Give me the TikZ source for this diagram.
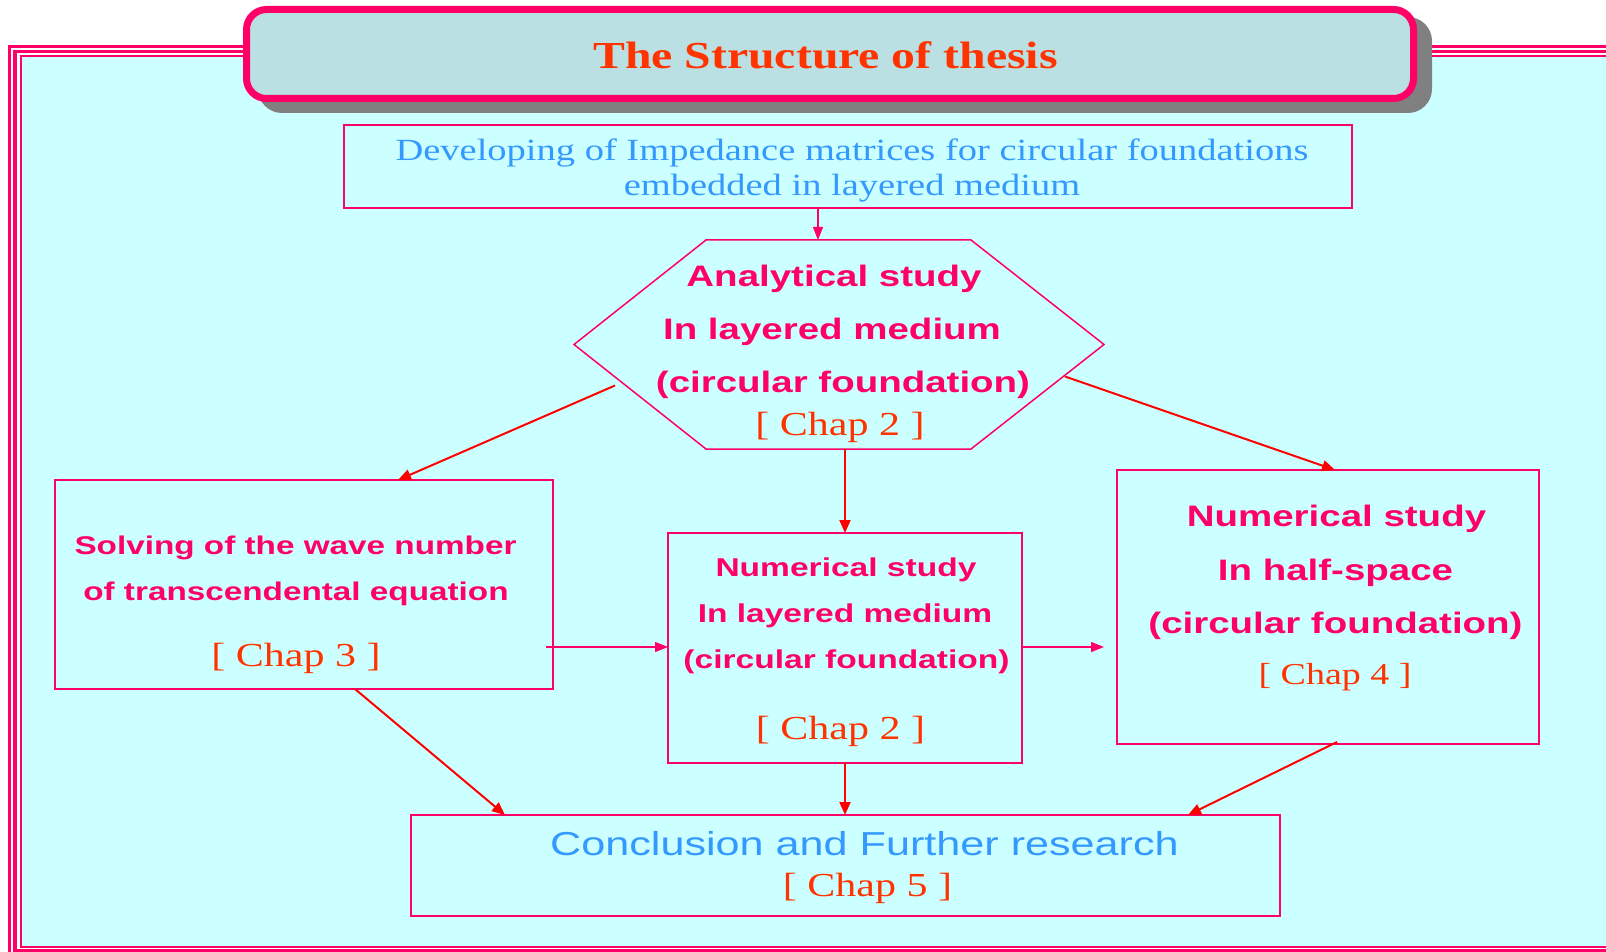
\documentclass[tikz,border=0pt]{standalone}
\usepackage{fontspec}
\setmainfont{Liberation Serif}[FakeStretch=1.25]
\newfontfamily\hv{Liberation Sans}[FakeStretch=1.3]
\usetikzlibrary{arrows.meta,calc}
\definecolor{pinkc}{HTML}{FF0066}
\definecolor{orangec}{HTML}{FF3300}
\definecolor{bluec}{HTML}{3399FF}
\definecolor{cyanbg}{HTML}{CCFFFF}
\definecolor{titlefill}{HTML}{BBE0E3}
\definecolor{redc}{HTML}{FF0000}
\definecolor{shadowc}{HTML}{808080}
\newcommand\fsz[1]{\fontsize{#1}{#1}\selectfont}
\tikzset{
  boxnode/.style={draw=pinkc, line width=0.75pt, inner sep=0pt, outer sep=0pt},
  hb/.style={anchor=base, text=pinkc, font=\hv\bfseries, inner sep=0pt},
  chap/.style={anchor=base, text=orangec, inner sep=0pt},
  bluetxt/.style={anchor=base, text=bluec, inner sep=0pt},
  redarrow/.style={draw=redc, line width=1pt, -{Triangle[length=6.5pt,width=5.5pt]}},
  pinkarrow/.style={draw=pinkc, line width=0.7pt, -{Triangle[length=6.5pt,width=5pt]}},
}
\begin{document}
\begin{tikzpicture}[x=0.5pt,y=-0.5pt]
\useasboundingbox (0,0) rectangle (1606,952);
\clip (0,0) rectangle (1606,952);
% frame
\draw[pinkc, line width=1.5pt] (9.5,47) rectangle (1640,975);
\draw[pinkc, line width=1.75pt] (15,51.5) rectangle (1635,950.5);
\draw[pinkc, line width=1pt, fill=cyanbg] (21,56) rectangle (1630,946.5);
% title
\fill[shadowc, rounded corners=12pt] (258,17) rectangle (1432,113);
\node[draw=pinkc, line width=3.5pt, fill=titlefill, rounded corners=10pt,
  minimum width=583.5pt, minimum height=44.5pt, inner sep=0pt] (title) at (830,54) {};
\node[anchor=base, text=orangec, font=\bfseries\fsz{19.1pt}, inner sep=0pt] (titletext) at (825.5,69) {The Structure of thesis};
% top box
\node[boxnode, minimum width=504pt, minimum height=41.5pt] (top) at (848,166.5) {};
\node[bluetxt, font=\fsz{15.4pt}] (top1) at (852,161) {Developing of Impedance matrices for circular foundations};
\node[bluetxt, font=\fsz{15.4pt}] (top2) at (852,195.5) {embedded in layered medium};
% hexagon
\node[minimum width=265pt, minimum height=104.5pt, inner sep=0pt, outer sep=0pt] (hex) at (839,344.5) {};
\draw[pinkc, line width=0.75pt] (hex.west) -- ($(hex.north west)+(132,0)$) -- ($(hex.north east)+(-133,0)$) -- (hex.east) -- ($(hex.south east)+(-133,0)$) -- ($(hex.south west)+(132,0)$) -- cycle;
\node[hb, font=\hv\bfseries\fsz{14.8pt}] (hex1) at (834,286) {Analytical study};
\node[hb, font=\hv\bfseries\fsz{14.8pt}] (hex2) at (832,339.5) {In layered medium};
\node[hb, font=\hv\bfseries\fsz{14.8pt}] (hex3) at (843,392.5) {(circular foundation)};
\node[chap, font=\fsz{16.8pt}] (hex4) at (840,435) {[ Chap 2 ]};
% left box
\node[boxnode, minimum width=249pt, minimum height=104.5pt] (left) at (304,584.5) {};
\node[hb, font=\hv\bfseries\fsz{12.8pt}] (left1) at (295.5,554) {Solving of the wave number};
\node[hb, font=\hv\bfseries\fsz{12.8pt}] (left2) at (296,600) {of transcendental equation};
\node[chap, font=\fsz{16.8pt}] (left3) at (296,666) {[ Chap 3 ]};
% middle box
\node[boxnode, minimum width=177pt, minimum height=115pt] (mid) at (845,648) {};
\node[hb, font=\hv\bfseries\fsz{12.9pt}] (mid1) at (846,576) {Numerical study};
\node[hb, font=\hv\bfseries\fsz{12.9pt}] (mid2) at (845,622) {In layered medium};
\node[hb, font=\hv\bfseries\fsz{12.9pt}] (mid3) at (846.5,668) {(circular foundation)};
\node[chap, font=\fsz{16.8pt}] (mid4) at (840.5,739) {[ Chap 2 ]};
% right box
\node[boxnode, minimum width=211pt, minimum height=137pt] (right) at (1328,607) {};
\node[hb, font=\hv\bfseries\fsz{14.8pt}] (right1) at (1336.5,526.5) {Numerical study};
\node[hb, font=\hv\bfseries\fsz{14.8pt}] (right2) at (1335.5,580) {In half-space};
\node[hb, font=\hv\bfseries\fsz{14.8pt}] (right3) at (1335.5,633.5) {(circular foundation)};
\node[chap, font=\fsz{15.2pt}] (right4) at (1335,684) {[ Chap 4 ]};
% bottom box
\node[boxnode, minimum width=434.5pt, minimum height=50.5pt] (bottom) at (845.5,865.5) {};
\node[bluetxt, font=\hv\fsz{16.6pt}] (bottom1) at (864.5,855.5) {Conclusion and Further research};
\node[chap, font=\fsz{16.8pt}] (bottom2) at (867.5,896) {[ Chap 5 ]};
% connectors
\draw[pinkarrow] ($(top.south)+(-30,0)$) -- ($(hex.north)+(-21,0)$);
\draw[redarrow] ($(hex.west)+(41,41)$) -- ($(left.north)+(94,0)$);
\draw[redarrow] ($(hex.east)+(-39,32)$) -- ($(right.north)+(7,0)$);
\draw[redarrow] ($(hex.south)+(6,0)$) -- (mid.north);
\draw[pinkarrow] ($(left.east |- mid.west)+(-7,-1)$) -- ($(mid.west)+(0,-1)$);
\draw[pinkarrow] ($(mid.east)+(0,-1)$) -- ($(right.west |- mid.east)+(-13,-1)$);
\draw[redarrow] ($(left.south)+(51,0)$) -- ($(bottom.north west)+(94,0)$);
\draw[redarrow] (mid.south) -- (bottom.north -| mid.south);
\draw[redarrow] ($(right.south)+(9,-2)$) -- ($(bottom.north east)+(-92,0)$);
\end{tikzpicture}
\end{document}
